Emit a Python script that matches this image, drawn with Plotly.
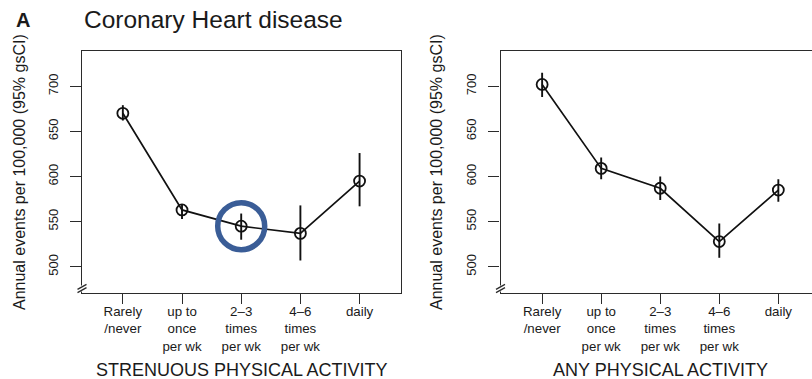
import plotly.graph_objects as go

# Frequency categories shared by both panels
categories = ["Rarely<br>/never", "up to<br>once<br>per wk", "2\u20133<br>times<br>per wk",
              "4\u20136<br>times<br>per wk", "daily"]

# Strenuous physical activity: annual events per 100,000 with 95% gsCI
strenuous = [670, 563, 545, 537, 595]
strenuous_lo = [662, 553, 530, 507, 567]
strenuous_hi = [679, 569, 559, 568, 626]

# Any physical activity
any_act = [702, 609, 587, 528, 585]
any_lo = [688, 597, 574, 510, 572]
any_hi = [715, 621, 600, 548, 597]

highlight_idx = 2  # "2-3 times per wk" point in the strenuous panel

y_ticks = [500, 550, 600, 650, 700]

W, H = 812, 379
FONT = "Liberation Sans, Arial, Helvetica, sans-serif"
INK = "#1a1a1a"
FRAME = "#2b2b2b"


def px_x(p):
    return p / W


def px_y(p):
    return 1 - p / H


fig = go.Figure()


def add_panel(vals, lo, hi, xa, ya):
    fig.add_trace(go.Scatter(
        x=categories, y=vals, xaxis=xa, yaxis=ya, mode="lines+markers",
        line=dict(color="#111111", width=1.7),
        marker=dict(symbol="circle-open", size=11, color="#111111",
                    line=dict(width=1.8, color="#111111")),
        error_y=dict(type="data", symmetric=False,
                     array=[h - v for h, v in zip(hi, vals)],
                     arrayminus=[v - l for v, l in zip(vals, lo)],
                     width=0, thickness=1.9, color="#111111"),
        showlegend=False, hoverinfo="skip"))


add_panel(strenuous, strenuous_lo, strenuous_hi, "x", "y")
add_panel(any_act, any_lo, any_hi, "x2", "y2")

# Highlight ring around one estimate
fig.add_trace(go.Scatter(
    x=[categories[highlight_idx]], y=[strenuous[highlight_idx]], xaxis="x", yaxis="y",
    mode="markers",
    marker=dict(symbol="circle-open", size=47, color="#3a5d97",
                line=dict(width=5.5, color="#3a5d97")),
    showlegend=False, hoverinfo="skip"))

y_top_px, y_bot_px = 51, 293
ydom = [px_y(y_bot_px), px_y(y_top_px)]
y_range = [471, 739]

xaxis_common = dict(
    type="category", showline=True, linecolor=FRAME, linewidth=1.4,
    ticks="outside", ticklen=10, tickwidth=1.4, tickcolor=FRAME,
    showgrid=False, zeroline=False, ticklabelstandoff=-4,
    tickfont=dict(family=FONT, size=13.3, color=INK),
)
yaxis_common = dict(
    range=y_range, showline=True, linecolor=FRAME, linewidth=1.4,
    ticks="outside", ticklen=11, tickwidth=1.4, tickcolor=FRAME,
    tickvals=y_ticks, tickangle=-90, showgrid=False, zeroline=False,
    ticklabelstandoff=7,
    tickfont=dict(family=FONT, size=13, color=INK),
)

fig.update_layout(
    width=W, height=H, margin=dict(l=0, r=0, t=0, b=0),
    paper_bgcolor="white", plot_bgcolor="white",
    xaxis=dict(**xaxis_common, domain=[px_x(82), px_x(401)], range=[-0.69, 4.70],
               mirror=True, anchor="y"),
    yaxis=dict(**yaxis_common, domain=ydom, mirror=True, anchor="x"),
    xaxis2=dict(**xaxis_common, domain=[px_x(500.5), 1.0], range=[-0.705, 4.57],
                mirror=True, anchor="y2"),
    yaxis2=dict(**yaxis_common, domain=ydom, anchor="x2"),
)

annotations = [
    dict(text="<b>A</b>", x=px_x(14), y=px_y(20), xanchor="left", yanchor="middle",
         font=dict(family=FONT, size=20, color=INK)),
    dict(text="Coronary Heart disease", x=px_x(82), y=px_y(19), xanchor="left",
         yanchor="middle", font=dict(family=FONT, size=24.5, color=INK)),
    dict(text="Annual events per 100,000 (95% gsCI)", x=px_x(20), y=px_y(172),
         textangle=-90, xanchor="center", yanchor="middle",
         font=dict(family=FONT, size=16, color=INK)),
    dict(text="Annual events per 100,000 (95% gsCI)", x=px_x(437), y=px_y(172),
         textangle=-90, xanchor="center", yanchor="middle",
         font=dict(family=FONT, size=16, color=INK)),
]
for a in annotations:
    a.update(xref="paper", yref="paper", showarrow=False)
    fig.add_annotation(**a)

# Panel x-axis titles, centred on the middle category
for xr, label in [("x", "STRENUOUS PHYSICAL ACTIVITY"), ("x2", "ANY PHYSICAL ACTIVITY")]:
    fig.add_annotation(text=label, x=categories[2], xref=xr, y=px_y(370), yref="paper",
                       showarrow=False, xanchor="center", yanchor="middle",
                       font=dict(family=FONT, size=18, color=INK))

# Axis-break marks on the lower part of each y axis
for xdom_ref in ["x domain", "x2 domain"]:
    dom = fig.layout.xaxis.domain if xdom_ref == "x domain" else fig.layout.xaxis2.domain
    wpx = (dom[1] - dom[0]) * W
    dx = 4.5 / wpx
    fig.add_shape(type="line", xref=xdom_ref, yref="paper",
                  x0=0, x1=0, y0=px_y(291.5), y1=px_y(285.5),
                  line=dict(color="white", width=3))
    for off in (-1.6, 1.6):
        fig.add_shape(type="line", xref=xdom_ref, yref="paper",
                      x0=-dx, x1=dx, y0=px_y(291 + off), y1=px_y(286 + off),
                      line=dict(color=FRAME, width=1.3))

fig.write_html("out.html")
